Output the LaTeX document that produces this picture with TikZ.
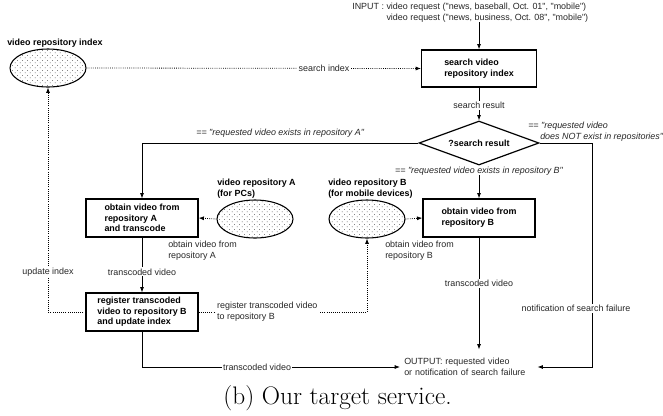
\documentclass[tikz,border=0pt]{standalone}
\usepackage{fontspec}
\newfontfamily\arial{Liberation Sans}
\usetikzlibrary{arrows.meta,shapes.geometric,patterns.meta}
\tikzdeclarepattern{
  name=sparsedots,
  type=uncolored,
  bottom left={(0pt,0pt)},
  top right={(3.6pt,3.6pt)},
  tile size={(3.6pt,3.6pt)},
  code={
    \pgfpathcircle{\pgfpoint{0.9pt}{0.9pt}}{0.35pt}
    \pgfpathcircle{\pgfpoint{2.7pt}{2.7pt}}{0.35pt}
    \pgfusepath{fill}
  }
}
\begin{document}
\begin{tikzpicture}[x=0.75pt,y=-0.75pt,
  txt/.style={font=\arial\fontsize{6.7}{8}\selectfont},
  bold/.style={font=\arial\fontsize{6.7}{8}\selectfont\bfseries},
  ital/.style={font=\arial\fontsize{6.7}{8}\selectfont\itshape, text=black!85},
  proc/.style={draw, line width=0.9pt, bold, align=left, minimum width=84pt, minimum height=28.5pt, inner sep=0pt},
  store/.style={ellipse, draw, line width=0.8pt, pattern=sparsedots, pattern color=black!65, minimum width=57pt, minimum height=28.5pt, inner sep=0pt},
  conn/.style={line width=0.6pt, -{Latex[length=4pt,width=3pt]}},
  dconn/.style={conn, densely dotted},
  plain/.style={txt, fill=white, inner sep=1pt, text=black!85}
]
\useasboundingbox (0,0) rectangle (663,415);

% nodes
\node[txt, anchor=west, align=left, inner sep=0pt, text=black!85] (in) at (352,12.5)
  {INPUT : video request ("news, baseball, Oct. 01", "mobile")\\\phantom{INPUT : }video request ("news, business, Oct. 08", "mobile")};
\node[proc, minimum width=86pt, minimum height=27.75pt] (S) at (479,68.5) {search video\\repository index};
\node[draw, diamond, aspect=2.7, line width=0.9pt, bold, minimum width=90pt, minimum height=33pt, inner sep=0pt] (D) at (479,143) {?search result};
\node[proc] (A) at (142,218) {obtain video from\\repository A\\and transcode};
\node[proc] (B) at (479,218) {obtain video from\\repository B};
\node[proc] (R) at (142,312) {register transcoded\\video to repository B\\and update index};

\node[store] (EI) at (48,68) {};
\node[store] (EA) at (255,219) {};
\node[store] (EB) at (367,219) {};
\node[bold, anchor=west, inner sep=0pt] (lEI) at (7,43) {video repository index};
\node[bold, anchor=west, align=left, inner sep=0pt] (lEA) at (217,188.5) {video repository A\\(for PCs)};
\node[bold, anchor=west, align=left, inner sep=0pt] (lEB) at (328,188.5) {video repository B\\(for mobile devices)};
\node[txt, anchor=west, align=left, inner sep=0pt, text=black!85] (oA) at (168,251) {obtain video from\\repository A};
\node[txt, anchor=west, align=left, inner sep=0pt, text=black!85] (oB) at (385,251) {obtain video from\\repository B};
\node[ital, anchor=west, align=left, inner sep=0pt] (nl) at (528,131.5)
  {== "requested video\\\hspace*{9pt}does NOT exist in repositories"};
\node[txt, anchor=west, align=left, text width=96.75pt, inner xsep=3pt, inner ysep=6.5pt, text=black!85] (out) at (400,367)
  {OUTPUT: requested video\\or notification of search failure};
\node[font=\fontsize{19}{23}\selectfont, inner sep=0pt] (cap) at (337.5,398) {(b) Our target service.};

\coordinate (rc) at (592,143);

% connectors
\draw[conn] (S.north |- in.south) -- (S.north);
\draw[dconn] (EI.east) -- node[plain, pos=0.71] {search index} (S.west);
\draw[conn] (S.south) -- node[plain, pos=0.55] {search result} (D.north);
\draw[conn] (D.west) -| node[ital, pos=0.25, above=0.5pt] {== "requested video exists in repository A"} (A.north);
\draw[conn] (D.south) -- node[ital, fill=white, inner xsep=1pt, inner ysep=0.3pt, pos=0.16] {== "requested video exists in repository B"} (B.north);
\draw[conn] (D.east) -- (rc) -- node[plain, pos=0.74, xshift=-12pt] {notification of search failure} (rc |- out.east) -- (out.east);
\draw[conn] (A.south) -- node[plain, pos=0.625] {transcoded video} (R.north);
\draw[dconn] (EA.west) -- (A.east);
\draw[dconn] (EB.east) -- (B.west);
\draw[dconn] (R.west) -| node[plain, pos=0.589] {update index} (EI.south);
\draw[dconn] (R.east) -| node[plain, align=left, pos=0.204] {register transcoded video\\to repository B} (EB.south);
\draw[conn] (R.south) |- node[plain, pos=0.723] {transcoded video} (out.west);
\draw[conn] (B.south) -- node[plain, pos=0.41] {transcoded video} (B.south |- out.north);
\end{tikzpicture}
\end{document}
